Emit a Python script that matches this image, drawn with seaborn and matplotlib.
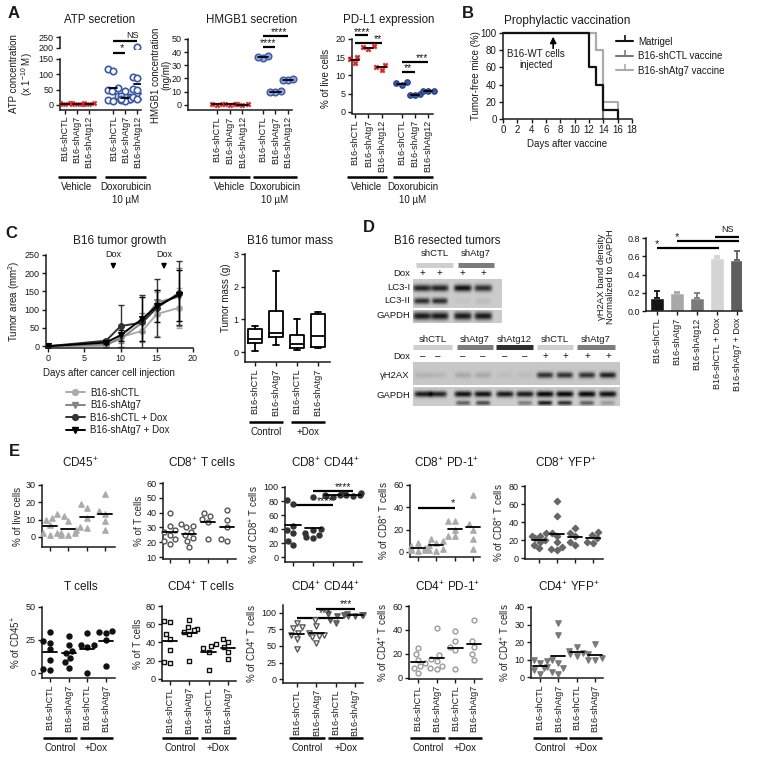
import numpy as np
import pandas as pd
import matplotlib
matplotlib.use("Agg")
import matplotlib.pyplot as plt
import seaborn as sns
from matplotlib.lines import Line2D
from matplotlib.transforms import blended_transform_factory

# ======================= DATA =======================
# ---- Panel A ----
a_labels = ["B16-shCTL", "B16-shAtg7", "B16-shAtg12"] * 2
atp_pos = [0, 1, 2, 4, 5, 6]
atp_veh_shctl = [3, 4, 5, 6]
atp_veh_shatg7 = [2, 4, 5, 3]
atp_veh_shatg12 = [3, 5, 7, 4]
atp_dox_shctl = [117, 110, 55, 50, 45, 30, 15, 12]
atp_dox_shatg7 = [45, 28, 25, 20, 18, 15, 12, 20]
atp_dox_shatg12 = [205, 90, 88, 52, 48, 30, 25, 20]

hmgb1_pos = [0, 1, 2, 3.6, 4.6, 5.6]
hmgb1_veh_shctl = [0.2, 0.1, 0.3]
hmgb1_veh_shatg7 = [0.1, 0.3, 0.2]
hmgb1_veh_shatg12 = [0.2, 0.2, 0.1]
hmgb1_dox_shctl = [35.8, 36.4, 37.0]
hmgb1_dox_shatg7 = [9.4, 9.8, 10.3]
hmgb1_dox_shatg12 = [18.5, 18.9, 19.4]

pdl1_pos = [0, 1, 2, 3.5, 4.5, 5.5]
pdl1_veh_shctl = [13.5, 14.4, 15.0]
pdl1_veh_shatg7 = [17.2, 17.7, 18.0]
pdl1_veh_shatg12 = [11.6, 12.3, 12.9]
pdl1_dox_shctl = [7.3, 7.8, 8.1]
pdl1_dox_shatg7 = [4.5, 4.7, 4.9]
pdl1_dox_shatg12 = [5.6, 5.7, 5.8]

# ---- Panel B (Kaplan-Meier, tumor-free %) ----
km_matrigel_days = [0, 12, 13, 14, 16]
km_matrigel_pct = [100, 60, 40, 10, 0]
km_shctl_days = [0, 13, 14]
km_shctl_pct = [100, 80, 0]
km_shatg7_days = [0, 13, 14, 16]
km_shatg7_pct = [100, 80, 20, 0]
b_xticks = list(range(0, 19, 2))

# ---- Panel C (tumor growth) ----
growth_days = [0, 8, 10, 13, 15, 18]
growth_shctl = [0, 1, 25, 42, 88, 105]
growth_shctl_sd = [0, 2, 10, 30, 60, 55]
growth_shatg7 = [0, 5, 20, 65, 120, 135]
growth_shatg7_sd = [0, 3, 12, 25, 35, 80]
growth_shctl_dox = [0, 15, 55, 65, 105, 145]
growth_shctl_dox_sd = [0, 5, 58, 75, 80, 88]
growth_shatg7_dox = [0, 10, 30, 75, 110, 140]
growth_shatg7_dox_sd = [0, 4, 15, 60, 45, 70]
dox_days = [9, 16]

# ---- Panel C (tumor mass box plot) ----
mass_labels = ["B16-shCTL", "B16-shAtg7", "B16-shCTL", "B16-shAtg7"]
mass_whislo = [0.03, 0.21, 0.08, 0.13]
mass_q1 = [0.27, 0.46, 0.13, 0.15]
mass_med = [0.39, 0.58, 0.24, 0.49]
mass_q3 = [0.70, 1.25, 0.52, 1.16]
mass_whishi = [0.80, 2.48, 1.00, 1.22]

# ---- Panel D (blots: band intensity per lane) ----
lc3_lane_x = [0.10, 0.30, 0.56, 0.79]
lc3i_bands = [0.85, 0.85, 0.95, 0.80]
lc3ii_bands = [0.80, 0.80, 0.04, 0.08]
gapdh_top_bands = [0.90, 0.90, 0.90, 0.90]
h2ax_lane_x = [0.048, 0.121, 0.242, 0.338, 0.444, 0.541, 0.638, 0.734, 0.841, 0.942]
h2ax_bands = [0.10, 0.08, 0.15, 0.15, 0.05, 0.05, 0.75, 0.75, 0.75, 0.85]
gapdh_bottom_bands = [0.90, 0.85, 0.95, 0.95, 0.90, 0.90, 1.0, 1.0, 1.0, 0.95]
gapdh_bottom_lower = [0.0, 0.0, 0.55, 0.65, 0.0, 0.40, 0.90, 0.80, 0.55, 0.25]

# ---- Panel D (bar chart) ----
h2ax_bar_labels = ["B16-shCTL", "B16-shAtg7", "B16-shAtg12", "B16-shCTL + Dox", "B16-shAtg7 + Dox"]
h2ax_bar_vals = [0.14, 0.20, 0.14, 0.58, 0.56]
h2ax_bar_err = [0.08, 0.01, 0.06, 0.02, 0.10]
h2ax_bar_colors = ["#151515", "#a8a8a8", "#7a7a7a", "#d4d4d4", "#5e5e5e"]

# ---- Panel E ----
e_labels = ["B16-shCTL", "B16-shAtg7", "B16-shCTL", "B16-shAtg7"]
cd45 = [[13, 11, 10, 7, 2, 2, 1], [12, 9, 4, 2, 1, 1, 2], [19, 17, 11, 6, 5], [25, 15, 13, 9, 4]]
cd8_t = [[40, 31, 28, 27, 25, 22, 21, 19], [32, 31, 30, 27, 25, 23, 21, 17], [40, 38, 36, 34, 22], [42, 35, 22, 21, 30]]
cd8_cd44 = [[76, 81, 45, 39, 35, 23, 17], [86, 40, 38, 35, 32, 28, 27], [90, 88, 87, 86, 89], [92, 90, 89, 88, 87]]
cd8_pd1 = [[8, 5, 3, 2, 1, 2, 4], [12, 10, 8, 6, 3, 1, 2], [28, 28, 20, 14, 14], [51, 25, 20, 12, 3]]
cd8_yfp = [[28, 25, 24, 22, 20, 18, 15, 11], [63, 47, 28, 25, 18, 12, 9, 10], [33, 28, 24, 18, 15], [29, 26, 22, 18, 17]]
t_cells = [[31, 24, 23, 18, 10, 3, 2], [28, 21, 17, 15, 11, 8, 4], [30, 21, 21, 20, 0], [32, 31, 30, 25, 5]]
cd4_t = [[64, 62, 49, 44, 32, 19, 18], [65, 57, 55, 54, 52, 49, 20], [38, 36, 34, 30, 10], [44, 40, 35, 30, 22]]
cd4_cd44 = [[85, 78, 77, 70, 66, 60, 45], [90, 80, 70, 67, 65, 55, 63], [98, 97, 95, 90, 85], [98, 97, 97, 96, 95]]
cd4_pd1 = [[25, 20, 15, 12, 10, 8, 4], [42, 19, 16, 14, 10, 8, 7], [39, 31, 26, 23, 7], [48, 31, 26, 20, 15]]
cd4_yfp = [[10, 9, 8, 6, 5, 4, 2], [31, 24, 10, 8, 5, 3, 2], [17, 15, 14, 13, 12], [19, 13, 11, 10, 10]]

# ======================= STYLE =======================
sns.set_style("ticks")
plt.rcParams["font.family"] = ["Liberation Sans", "DejaVu Sans"]
plt.rcParams["mathtext.fontset"] = "custom"
plt.rcParams["mathtext.rm"] = "Liberation Sans"
plt.rcParams["mathtext.it"] = "Liberation Sans:italic"
plt.rcParams["mathtext.bf"] = "Liberation Sans:bold"
plt.rcParams["text.color"] = "#1a1a1a"

W, H = 762, 768
fig = plt.figure(figsize=(W / 100, H / 100), dpi=100)


def axp(l, t, r, b):
    return fig.add_axes([l / W, 1 - b / H, (r - l) / W, (b - t) / H])


def ftext(x, y, s, **kw):
    kw.setdefault("fontsize", 7)
    kw.setdefault("ha", "center")
    kw.setdefault("va", "center")
    fig.text(x / W, 1 - y / H, s, **kw)


def style(ax, fs=6.5):
    for s in ["top", "right"]:
        ax.spines[s].set_visible(False)
    for s in ["left", "bottom"]:
        ax.spines[s].set_linewidth(1.1)
        ax.spines[s].set_color("#1a1a1a")
    ax.tick_params(labelsize=fs, length=3, width=1.0, pad=1.5, colors="#1a1a1a")
    ax.set_facecolor("none")
    ax.set_xlabel("")
    ax.set_ylabel("")


def dots(ax, xs, groups, marker, face, edge, size, lw=0.9, mean=True, mw=0.32, clip=False):
    x = np.repeat(np.asarray(xs, float), [len(g) for g in groups])
    y = np.concatenate([np.asarray(g, float) for g in groups])
    df = pd.DataFrame({"x": x, "y": y})
    n0 = len(ax.collections)
    sns.swarmplot(data=df, x="x", y="y", native_scale=True, orient="x", ax=ax,
                  marker=marker, size=size, color=edge, linewidth=lw, warn_thresh=1.0, zorder=3)
    for c in ax.collections[n0:]:
        c.set_facecolor(face)
        c.set_edgecolor(edge)
        c.set_linewidth(lw)
        c.set_clip_on(clip)
    if mean:
        for xi, g in zip(xs, groups):
            ax.plot([xi - mw, xi + mw], [np.mean(g)] * 2, color="k", lw=1.3, zorder=4, clip_on=clip)
    ax.set_xlabel("")
    ax.set_ylabel("")


def sig(ax, x1, x2, ypx, text, tx, typx, fs=8, lw=1.6):
    tr = blended_transform_factory(ax.transData, fig.transFigure)
    y = 1 - ypx / H
    ax.plot([x1, x2], [y, y], transform=tr, color="k", lw=lw, clip_on=False, solid_capstyle="butt")
    ax.text(tx, 1 - typx / H, text, transform=tr, ha="center", va="center", fontsize=fs, clip_on=False)


def group(ax, x1, x2, ypx, label, fs=7, label2=None):
    tr = blended_transform_factory(ax.transData, fig.transFigure)
    y = 1 - ypx / H
    ax.plot([x1, x2], [y, y], transform=tr, color="k", lw=1.8, clip_on=False, solid_capstyle="butt")
    ax.text((x1 + x2) / 2, 1 - (ypx + 10) / H, label, transform=tr, ha="center", va="center", fontsize=fs)
    if label2:
        ax.text((x1 + x2) / 2, 1 - (ypx + 23) / H, label2, transform=tr, ha="center", va="center", fontsize=fs)


RED = "#d8262b"
BLUE = "#3a58a6"

# ======================= PANEL A =======================
ftext(14, 13, "A", fontsize=12, fontweight="bold")

# ATP secretion (broken axis)
ax_lo = axp(60, 59, 141, 109.6)
ax_hi = axp(60, 36.3, 141, 48.7)
for a in (ax_lo, ax_hi):
    dots(a, atp_pos[:3], [atp_veh_shctl, atp_veh_shatg7, atp_veh_shatg12], "X", RED, RED, 3.6, lw=0.3, clip=True)
    dots(a, atp_pos[3:], [atp_dox_shctl, atp_dox_shatg7, atp_dox_shatg12], "o", "white", BLUE, 4.6, lw=1.2, clip=True)
    style(a)
    a.set_xlim(-0.42, 6.3)
ax_lo.set_ylim(-15, 150)
ax_lo.set_yticks([0, 50, 100, 150])
ax_lo.spines["left"].set_bounds(-15, 150)
ax_lo.set_xticks(atp_pos, a_labels, rotation=90, fontsize=6.5)
ax_hi.set_ylim(195, 255)
ax_hi.set_yticks([200, 250])
ax_hi.spines["left"].set_bounds(200, 250)
ax_hi.spines["bottom"].set_visible(False)
ax_hi.set_xticks([])
for a in (ax_lo, ax_hi):
    for c in a.collections:
        c.set_clip_on(True)
ftext(100, 20, "ATP secretion", fontsize=8.3)
ftext(22, 74, "ATP concentration\n(x 1$^{-10}$ M)", fontsize=7, rotation=90, linespacing=1.1)
sig(ax_lo, 4, 5, 53, "*", 4.75, 48)
sig(ax_lo, 4, 6, 41, "NS", 5.6, 35, fs=6.5)
group(ax_lo, -0.6, 2.55, 177, "Vehicle")
group(ax_lo, 3.3, 6.7, 177, "Doxorubicin", label2="10 µM")

# HMGB1 secretion
ax = axp(188, 39, 292, 110)
dots(ax, hmgb1_pos[:3], [hmgb1_veh_shctl, hmgb1_veh_shatg7, hmgb1_veh_shatg12], "X", RED, RED, 3.8, lw=0.3, mw=0.4)
dots(ax, hmgb1_pos[3:], [hmgb1_dox_shctl, hmgb1_dox_shatg7, hmgb1_dox_shatg12], "o", "#8ea5d8", BLUE, 4.8, lw=1.0, mw=0.4)
style(ax)
ax.set_xlim(-2.28, 5.9)
ax.set_ylim(-4, 50)
ax.set_yticks([0, 10, 20, 30, 40, 50])
ax.spines["left"].set_bounds(-4, 50)
ax.set_xticks(hmgb1_pos, a_labels, rotation=90, fontsize=6.5)
ftext(252, 20, "HMGB1 secretion", fontsize=8.3)
ftext(161, 75, "HMGB1 concentration\n(ng/ml)", fontsize=7, rotation=90, linespacing=1.1)
sig(ax, 3.6, 4.6, 47, "****", 4.05, 43, fs=7.5)
sig(ax, 3.6, 5.6, 36, "****", 4.85, 32, fs=7.5)
group(ax, -0.6, 2.6, 177, "Vehicle")
group(ax, 2.8, 6.3, 177, "Doxorubicin", label2="10 µM")

# PD-L1 expression
ax = axp(352, 39, 433, 113.5)
dots(ax, pdl1_pos[:3], [pdl1_veh_shctl, pdl1_veh_shatg7, pdl1_veh_shatg12], "X", RED, RED, 3.8, lw=0.3)
dots(ax, pdl1_pos[3:], [pdl1_dox_shctl, pdl1_dox_shatg7, pdl1_dox_shatg12], "o", BLUE, "#24407e", 4.0, lw=0.8)
style(ax)
ax.set_xlim(-0.23, 5.86)
ax.set_ylim(-0.5, 20)
ax.set_yticks([0, 5, 10, 15, 20])
ax.set_xticks(pdl1_pos, a_labels, rotation=90, fontsize=6.5)
ftext(389, 20, "PD-L1 expression", fontsize=8.3)
ftext(326, 78, "% of live cells", fontsize=7, rotation=90)
sig(ax, 0, 1, 35, "****", 0.5, 32, fs=7.5)
sig(ax, 0, 2, 43, "**", 1.7, 39, fs=7.5)
sig(ax, 3.5, 5.5, 62, "***", 5.0, 58, fs=7.5)
sig(ax, 3.5, 4.5, 72, "**", 4.0, 68, fs=7.5)
group(ax, -0.6, 2.4, 177, "Vehicle")
group(ax, 2.85, 5.86, 177, "Doxorubicin", label2="10 µM")

# ======================= PANEL B =======================
ftext(468, 13, "B", fontsize=12, fontweight="bold")
ax = axp(503, 33, 632, 119)
sns.lineplot(x=km_shctl_days, y=km_shctl_pct, ax=ax, drawstyle="steps-post", color="#7a7a7a", lw=1.5)
sns.lineplot(x=km_shatg7_days, y=km_shatg7_pct, ax=ax, drawstyle="steps-post", color="#ababab", lw=1.5)
sns.lineplot(x=km_matrigel_days, y=km_matrigel_pct, ax=ax, drawstyle="steps-post", color="#111111", lw=1.6)
for ln in ax.lines:
    ln.set_clip_on(False)
style(ax)
ax.set_xlim(0, 18)
ax.set_ylim(0, 100)
ax.set_xticks(b_xticks)
ax.set_yticks([0, 20, 40, 60, 80, 100])
ax.tick_params(labelsize=7)
ax.annotate("", xy=(7, 99), xytext=(7, 79),
            arrowprops=dict(arrowstyle="-|>", color="k", lw=1.2, mutation_scale=9))
ax.text(4.6, 69, "B16-WT cells\ninjected", ha="center", va="center", fontsize=7, linespacing=1.2)
ftext(567, 21, "Prophylactic vaccination", fontsize=8.5)
ftext(476, 76, "Tumor-free mice (%)", fontsize=7, rotation=90)
ftext(567, 144, "Days after vaccine", fontsize=7)
km_handles = [Line2D([], [], color=c, lw=1.5, marker=2, markersize=4, markeredgewidth=1.2)
              for c in ["#111111", "#7a7a7a", "#ababab"]]
fig.legend(km_handles, ["Matrigel", "B16-shCTL vaccine", "B16-shAtg7 vaccine"],
           loc="upper left", bbox_to_anchor=(607 / W, 1 - 28 / H), frameon=False, fontsize=7,
           handlelength=1.8, labelspacing=0.45, handletextpad=0.5)

# ======================= PANEL C =======================
ftext(11, 233, "C", fontsize=12, fontweight="bold")
ax = axp(46, 255, 193, 348)
series_c = [
    ("B16-shCTL", growth_shctl, growth_shctl_sd, "#ababab", "o"),
    ("B16-shAtg7", growth_shatg7, growth_shatg7_sd, "#858585", "v"),
    ("B16-shCTL + Dox", growth_shctl_dox, growth_shctl_dox_sd, "#333333", "o"),
    ("B16-shAtg7 + Dox", growth_shatg7_dox, growth_shatg7_dox_sd, "#000000", "v"),
]
c_handles = []
for name, vals, sd, col, mk in series_c:
    ax.errorbar(growth_days, vals, yerr=sd, fmt="none", ecolor=col, elinewidth=1.0, capsize=2, capthick=1.0)
    sns.lineplot(x=growth_days, y=vals, ax=ax, color=col, marker=mk, markersize=4.2,
                 markeredgecolor=col, lw=1.4)
    c_handles.append(Line2D([], [], color=col, marker=mk, markersize=4.2, lw=1.4, markeredgecolor=col))
style(ax)
ax.set_xlim(-0.3, 20)
ax.set_ylim(-5, 250)
ax.set_xticks([0, 5, 10, 15, 20])
ax.set_yticks([0, 50, 100, 150, 200, 250])
for d in dox_days:
    ax.annotate("", xy=(d, 203), xytext=(d, 233),
                arrowprops=dict(arrowstyle="-|>", color="k", lw=1.2, mutation_scale=7), annotation_clip=False)
    ax.text(d, 252, "Dox", ha="center", va="center", fontsize=6.5, clip_on=False)
ftext(120, 241, "B16 tumor growth", fontsize=8.5)
ftext(14, 301, "Tumor area (mm$^2$)", fontsize=7, rotation=90)
ftext(109, 373, "Days after cancer cell injection", fontsize=7)
fig.legend(c_handles, [s[0] for s in series_c], loc="upper left",
           bbox_to_anchor=(57 / W, 1 - 379 / H), frameon=False, fontsize=7,
           handlelength=2.0, labelspacing=0.25, handletextpad=0.5)

# Tumor mass
ax = axp(245, 254, 330, 362)
stats = [dict(med=m, q1=a, q3=b, whislo=lo, whishi=hi, label=l)
         for m, a, b, lo, hi, l in zip(mass_med, mass_q1, mass_q3, mass_whislo, mass_whishi, mass_labels)]
bp = dict(color="k", lw=1.3)
ax.bxp(stats, positions=[0, 1, 2, 3], widths=0.68, showfliers=False, boxprops=bp, whiskerprops=bp,
       capprops=bp, medianprops=bp, capwidths=0.3)
style(ax)
ax.set_xlim(-0.48, 3.57)
ax.set_ylim(-0.3, 3)
ax.set_yticks([0, 1, 2, 3])
ax.set_xticks([0, 1, 2, 3], mass_labels, rotation=90, fontsize=6.5)
ftext(290, 241, "B16 tumor mass", fontsize=8.5)
ftext(226, 298, "Tumor mass (g)", fontsize=7, rotation=90)
group(ax, -0.3, 1.35, 422, "Control")
group(ax, 1.7, 3.35, 422, "+Dox")

# ======================= PANEL D =======================
ftext(369, 228, "D", fontsize=12, fontweight="bold")
ftext(447, 241, "B16 resected tumors", fontsize=8.3)


def blot(l, t, r, b, lane_x, rows, bg=0.80):
    a = axp(l, t, r, b)
    hh, ww = 80, 400
    yy, xx = np.mgrid[0:1:hh * 1j, 0:1:ww * 1j]
    img = np.full((hh, ww), bg)
    for yc, hy, wx, vals in rows:
        for xc, v in zip(lane_x, vals):
            img -= 0.78 * v * np.exp(-(((xx - xc) / wx) ** 6) - ((yy - yc) / hy) ** 2)
    img = np.clip(img, 0.02, 1)
    a.imshow(img, cmap="gray", vmin=0, vmax=1, extent=[0, 1, 1, 0], aspect="auto", interpolation="bilinear")
    a.axis("off")
    return a


blot(413, 279, 502, 308, lc3_lane_x,
     [(0.31, 0.12, 0.10, lc3i_bands), (0.76, 0.11, 0.09, lc3ii_bands)])
blot(413, 310, 502, 323, lc3_lane_x, [(0.5, 0.28, 0.10, gapdh_top_bands)])
blot(413, 362, 620, 385, h2ax_lane_x, [(0.57, 0.13, 0.040, h2ax_bands)], bg=0.78)
blot(413, 387, 620, 406, h2ax_lane_x,
     [(0.37, 0.16, 0.042, gapdh_bottom_bands), (0.84, 0.12, 0.035, gapdh_bottom_lower)])

# blot labels
for txt, y in [("Dox", 273), ("LC3-I", 288), ("LC3-II", 301), ("GAPDH", 316),
               ("Dox", 356), ("γH2AX", 375), ("GAPDH", 395)]:
    ftext(410, y, txt, fontsize=6.8, ha="right")
for xc in lc3_lane_x:
    ftext(413 + xc * 89, 273, "+", fontsize=7)
for i, xc in enumerate(h2ax_lane_x):
    ftext(413 + xc * 207, 356, "–" if i < 6 else "+", fontsize=7)
hdr = [("shCTL", 416, 453, 254, 265, "#cfcfcf"), ("shAtg7", 458, 494, 254, 265, "#7c7c7c"),
       ("shCTL", 413, 452, 339, 347, "#cfcfcf"), ("shAtg7", 457, 493, 339, 347, "#7c7c7c"),
       ("shAtg12", 496, 533, 339, 347, "#2e2e2e"), ("shCTL", 537, 573, 339, 347, "#cfcfcf"),
       ("shAtg7", 577, 615, 339, 347, "#7c7c7c")]
for name, x0, x1, ty, by, col in hdr:
    ftext((x0 + x1) / 2, ty, name, fontsize=6.8)
    fig.add_artist(Line2D([x0 / W, x1 / W], [1 - by / H] * 2, lw=3.6, color=col,
                          solid_capstyle="butt"))

# bar chart
ax = axp(646, 238, 742, 311)
sns.barplot(x=list(range(5)), y=h2ax_bar_vals, hue=list(range(5)), palette=h2ax_bar_colors,
            legend=False, ax=ax, width=0.7, native_scale=True)
for i, (v, e, c) in enumerate(zip(h2ax_bar_vals, h2ax_bar_err, h2ax_bar_colors)):
    ax.errorbar([i], [v], yerr=[[0], [e]], fmt="none", ecolor=c, elinewidth=1.3, capsize=2.5, capthick=1.3)
style(ax)
ax.set_xlim(-0.55, 4.25)
ax.set_ylim(0, 0.8)
ax.set_yticks([0.0, 0.2, 0.4, 0.6, 0.8], ["0.0", "0.2", "0.4", "0.6", "0.8"])
ax.set_xticks(range(5), h2ax_bar_labels, rotation=90, fontsize=6.5)
ftext(606, 277, "γH2AX band density\nNormalized to GAPDH", fontsize=6.8, rotation=90, linespacing=1.05)
sig(ax, 0, 3.1, 248, "*", 0, 244)
sig(ax, 1, 4.1, 241, "*", 1, 237)
sig(ax, 2.9, 4.1, 237, "NS", 3.5, 230, fs=6.5)

# ======================= PANEL E =======================
ftext(14, 452, "E", fontsize=12, fontweight="bold")

e_specs = [
    # title, ylabel, data, box, ylim, yticks, xlim, marker, face, edge, size, row
    ("CD45$^{+}$", "% of live cells", cd45, (42, 485, 115, 547), (-5.8, 30), [0, 10, 20, 30],
     (-0.44, 3.55), "^", "#ababab", "#ababab", 3.8, 1),
    ("CD8$^{+}$ T cells", "% of T cells", cd8_t, (163, 483, 236, 559), (8.7, 60), [10, 20, 30, 40, 50, 60],
     (-0.37, 3.47), "o", "white", "#555555", 3.5, 1),
    ("CD8$^{+}$ CD44$^{+}$", "% of CD8$^{+}$ T cells", cd8_cd44, (285, 487, 362, 562), (-7, 100),
     [0, 20, 40, 60, 80, 100], (-0.4, 3.45), "o", "#333333", "#333333", 3.6, 1),
    ("CD8$^{+}$ PD-1$^{+}$", "% of CD8$^{+}$ T cells", cd8_pd1, (410, 485, 480, 557), (-4.5, 60),
     [0, 20, 40, 60], (-0.44, 3.39), "^", "#ababab", "#ababab", 3.8, 1),
    ("CD8$^{+}$ YFP$^{+}$", "% of CD8$^{+}$ T cells", cd8_yfp, (525, 486, 603, 559), (-1.1, 80),
     [0, 20, 40, 60, 80], (-0.78, 3.55), "D", "#666666", "#666666", 3.2, 1),
    ("T cells", "% of CD45$^{+}$", t_cells, (42, 607, 115, 678), (-3.8, 50), [0, 25, 50],
     (-0.43, 3.5), "o", "#111111", "#111111", 3.6, 2),
    ("CD4$^{+}$ T cells", "% of T cells", cd4_t, (162, 606, 236, 681), (-2.2, 80), [0, 20, 40, 60, 80],
     (-0.41, 3.42), "s", "white", "#111111", 3.4, 2),
    ("CD4$^{+}$ CD44$^{+}$", "% of CD4$^{+}$ T cells", cd4_cd44, (283, 605, 363, 683), (-6, 112),
     [0, 25, 50, 75, 100], (-0.72, 3.4), "v", "white", "#5a5a5a", 3.8, 2),
    ("CD4$^{+}$ PD-1$^{+}$", "% of CD4$^{+}$ T cells", cd4_pd1, (409, 606, 482, 679), (-1, 60),
     [0, 20, 40, 60], (-0.48, 3.42), "o", "white", "#9a9a9a", 3.5, 2),
    ("CD4$^{+}$ YFP$^{+}$", "% of CD4$^{+}$ T cells", cd4_yfp, (531, 607, 603, 678), (-0.5, 40),
     [0, 10, 20, 30, 40], (-0.5, 3.44), "v", "#7a7a7a", "#7a7a7a", 3.8, 2),
]

e_axes = []
for (title, ylab, data, box, ylim, yt, xlim, mk, fc, ec, sz, row) in e_specs:
    ax = axp(*box)
    if title.startswith("CD4$^{+}$ CD44"):
        dots(ax, [0, 1], data[:2], mk, fc, ec, sz, lw=1.0, mw=0.38)
        dots(ax, [2, 3], data[2:], mk, "#6a6a6a", ec, sz, lw=1.0, mw=0.38)
    else:
        dots(ax, [0, 1, 2, 3], data, mk, fc, ec, sz, lw=1.0, mw=0.38)
    style(ax)
    ax.set_xlim(*xlim)
    ax.set_ylim(*ylim)
    ax.set_yticks(yt)
    ax.set_ylabel(ylab, fontsize=7, labelpad=2)
    if row == 1:
        ax.set_xticks([0, 1, 2, 3], [""] * 4)
        ty = 463
    else:
        ax.set_xticks([0, 1, 2, 3], e_labels, rotation=90, fontsize=6.5)
        group(ax, -0.4, 1.45, 738, "Control")
        group(ax, 1.6, 3.4, 738, "+Dox")
        ty = 587
    ftext((box[0] + box[2]) / 2 + 2, ty, title, fontsize=8.5)
    e_axes.append(ax)

sig(e_axes[2], 0, 2, 505, "****", 1.6, 501, fs=7.5)
sig(e_axes[2], 1, 3, 491, "****", 2.5, 487, fs=7.5)
sig(e_axes[3], 0, 2, 508, "*", 1.9, 503, fs=8)
sig(e_axes[7], 0, 2, 618, "***", 1.45, 613, fs=7.5)
sig(e_axes[7], 1, 3, 609, "***", 2.5, 604, fs=7.5)

fig.savefig("out.png", dpi=100)
